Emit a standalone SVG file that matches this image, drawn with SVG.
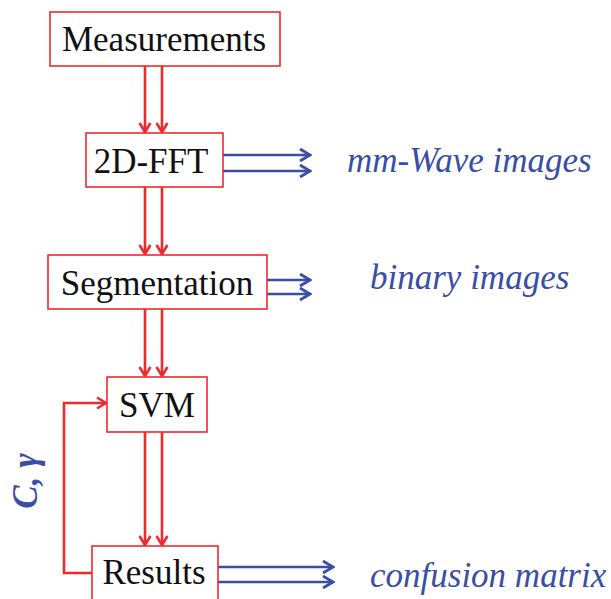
<svg xmlns="http://www.w3.org/2000/svg" width="611" height="599" viewBox="0 0 611 599">
  <style>
    .box { fill: #ffffff; stroke: #ee2a2f; stroke-width: 1.6; }
    .label { font-family: "Liberation Serif", "Times New Roman", serif; font-size: 35px; fill: #111111; text-anchor: middle; }
    .out { font-family: "Liberation Serif", "Times New Roman", serif; font-size: 35px; font-style: italic; fill: #3a4ea6; }
    .red { fill: none; stroke: #ee2a2f; stroke-width: 2.6; }
    .blue { fill: none; stroke: #3a4ea6; stroke-width: 2.6; }
  </style>
  <defs>
    <marker id="headRed" markerUnits="userSpaceOnUse" viewBox="-12 -7 14 14" markerWidth="14" markerHeight="14" refX="0" refY="0" orient="auto">
      <path d="M -9 -5.5 L 0 0 L -9 5.5" fill="none" stroke="#ee2a2f" stroke-width="2.6" stroke-linejoin="miter"/>
    </marker>
    <marker id="headBlue" markerUnits="userSpaceOnUse" viewBox="-12 -7 14 14" markerWidth="14" markerHeight="14" refX="0" refY="0" orient="auto">
      <path d="M -10 -6 L 0 0 L -10 6" fill="none" stroke="#3a4ea6" stroke-width="2.8" stroke-linejoin="miter"/>
    </marker>
  </defs>

  <rect width="611" height="599" fill="#ffffff"/>

  <g id="connectors">
    <!-- Measurements -> 2D-FFT -->
    <line class="red" x1="145" y1="66" x2="145" y2="132" marker-end="url(#headRed)"/>
    <line class="red" x1="162" y1="66" x2="162" y2="132" marker-end="url(#headRed)"/>
    <!-- 2D-FFT -> Segmentation -->
    <line class="red" x1="145" y1="187" x2="145" y2="254" marker-end="url(#headRed)"/>
    <line class="red" x1="162" y1="187" x2="162" y2="254" marker-end="url(#headRed)"/>
    <!-- Segmentation -> SVM -->
    <line class="red" x1="145" y1="309" x2="145" y2="376" marker-end="url(#headRed)"/>
    <line class="red" x1="162" y1="309" x2="162" y2="376" marker-end="url(#headRed)"/>
    <!-- SVM -> Results -->
    <line class="red" x1="145" y1="432" x2="145" y2="545" marker-end="url(#headRed)"/>
    <line class="red" x1="162" y1="432" x2="162" y2="545" marker-end="url(#headRed)"/>
    <!-- feedback Results -> SVM -->
    <polyline class="red" points="92,573 64,573 64,403 106,403" marker-end="url(#headRed)"/>

    <!-- outputs -->
    <line class="blue" x1="223" y1="155" x2="310" y2="155" marker-end="url(#headBlue)"/>
    <line class="blue" x1="223" y1="171" x2="310" y2="171" marker-end="url(#headBlue)"/>
    <line class="blue" x1="267" y1="280" x2="310" y2="280" marker-end="url(#headBlue)"/>
    <line class="blue" x1="267" y1="294" x2="310" y2="294" marker-end="url(#headBlue)"/>
    <line class="blue" x1="218" y1="567" x2="333" y2="567" marker-end="url(#headBlue)"/>
    <line class="blue" x1="218" y1="582" x2="333" y2="582" marker-end="url(#headBlue)"/>
  </g>

  <g id="measurements">
    <rect class="box" x="50" y="12" width="230" height="54"/>
    <text class="label" x="164" y="51">Measurements</text>
  </g>

  <g id="fft">
    <rect class="box" x="86" y="133" width="137" height="54"/>
    <text class="label" x="151" y="173">2D-FFT</text>
  </g>

  <g id="segmentation">
    <rect class="box" x="48" y="255" width="219" height="54"/>
    <text class="label" x="157" y="295">Segmentation</text>
  </g>

  <g id="svm">
    <rect class="box" x="107" y="377" width="100" height="55"/>
    <text class="label" x="157" y="417">SVM</text>
  </g>

  <g id="results">
    <rect class="box" x="92" y="546" width="126" height="60"/>
    <text class="label" x="154" y="584">Results</text>
  </g>

  <g id="output-labels">
    <text class="out" x="347" y="172">mm-Wave images</text>
    <text class="out" x="370" y="289">binary images</text>
    <text class="out" x="370" y="587">confusion matrix</text>
    <text class="out" font-weight="bold" font-size="32" text-anchor="middle" transform="translate(37,481) rotate(-90)">C, γ</text>
  </g>
</svg>
